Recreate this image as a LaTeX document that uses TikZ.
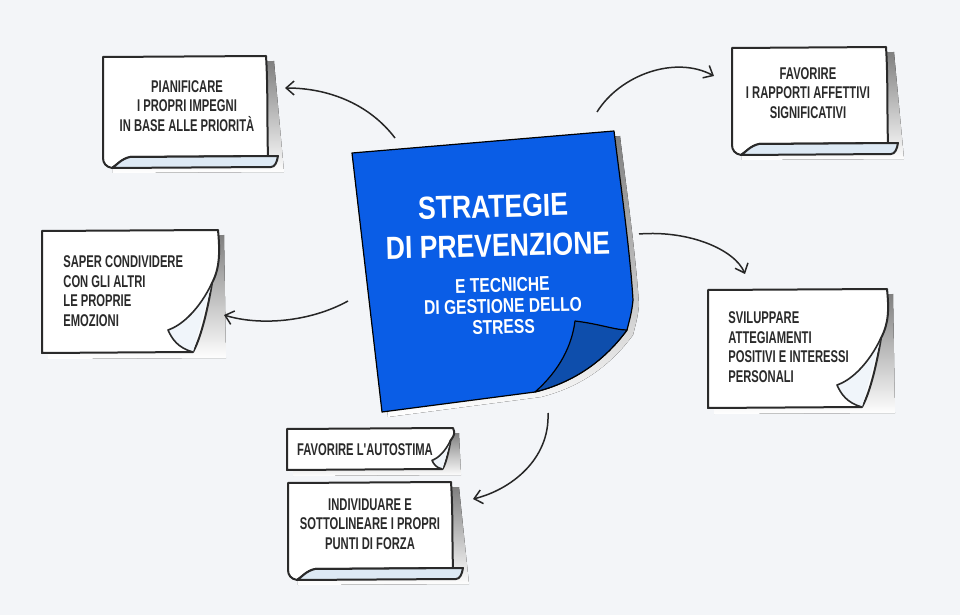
\documentclass[tikz,border=0pt]{standalone}
\usepackage{fontspec}
\newfontfamily\notefont{Liberation Sans}[FakeStretch=0.66]
\newfontfamily\headfont{Liberation Sans}[FakeStretch=0.78]
\newfontfamily\bigfont{Liberation Sans}[FakeStretch=0.83]
\usetikzlibrary{arrows.meta}

\definecolor{bg}{HTML}{F3F5F8}
\definecolor{noteblue}{HTML}{0A5DE6}
\definecolor{curlblue}{HTML}{0E4EAC}
\definecolor{shade}{HTML}{DCE7F2}
\definecolor{scrollc}{HTML}{DDE9F4}
\definecolor{ink}{HTML}{2A2A2A}

\newcommand{\scrollnote}[4]{%
	\fill[shade] ({#1+5},{#2+6}) -- ({#3+7},{#2+5}) -- ({#3+17},{#4+4}) -- ({#1+10},{#4+5}) -- cycle;
	\draw[notebody] ({#1},{#2+1}) -- ({#3-1},{#2}) .. controls ({#3+1},{#2+30}) and ({#3},{#4-40}) .. ({#3+1},{#4-12}) -- ({#1+27},{#4-11}) .. controls ({#1+18},{#4-9}) and ({#1+14},{#4-3}) .. ({#1+9},{#4}) .. controls ({#1+3},{#4-1}) and ({#1},{#4-5}) .. ({#1},{#4-10}) -- cycle;
	\draw[notescroll] ({#1+27},{#4-11}) -- ({#3+11},{#4-12}) .. controls ({#3+10},{#4-6}) and ({#3+8},{#4-1}) .. ({#3+4},{#4-1}) -- ({#1+9},{#4}) .. controls ({#1+14},{#4-3}) and ({#1+18},{#4-9}) .. ({#1+27},{#4-11}) -- cycle;
}
\newcommand{\curlnote}[5]{%
	\fill[shade] ({#1+6},{#2+6}) -- ({#3+6},{#2+5}) -- ({#3+8},{#4+5}) -- ({#1+6},{#4+6}) -- cycle;
	\draw[notebody] ({#1},{#2+1}) -- ({#3},{#2}) .. controls ({#3+2},{#2+0.4*(#4-#2-70*#5)}) and ({#3+2},{#4-85*#5}) .. ({#3-6*#5},{#4-70*#5}) .. controls ({#3-10*#5},{#4-45*#5}) and ({#3-17*#5},{#4-15*#5}) .. ({#3-25*#5},{#4-1}) -- ({#1},{#4}) -- cycle;
	\draw[notecurl] ({#3-6*#5},{#4-70*#5}) .. controls ({#3-18*#5},{#4-45*#5}) and ({#3-35*#5},{#4-28*#5}) .. ({#3-50*#5},{#4-23*#5}) .. controls ({#3-46*#5},{#4-14*#5}) and ({#3-40*#5},{#4-5*#5}) .. ({#3-25*#5},{#4-1});
}

\begin{document}
\begin{tikzpicture}[x=0.5pt,y=-0.5pt,
	notebody/.style={fill=white,draw=ink,line width=1pt,line join=round},
	notescroll/.style={fill=scrollc,draw=ink,line width=1pt,line join=round},
	notecurl/.style={fill=scrollc!45!white,draw=ink,line width=0.8pt,line join=round},
	notetext/.style={text=ink,inner sep=0pt,font=\notefont\bfseries\fontsize{8.5}{9.8}\selectfont},
	bluetext/.style={text=white,inner sep=0pt,rotate=1.5,align=center},
	titletext/.style={bluetext,text height=11.5pt,text depth=0pt,font=\bigfont\bfseries\fontsize{16}{17}\selectfont},
	link/.style={draw=black!85,line width=0.75pt,-{Straight Barb[length=4pt,width=7pt]}}]
	\fill[bg] (0,0) rectangle (960,615);
	\useasboundingbox (0,0) rectangle (960,615);
	\scrollnote{103}{56}{267}{168}
	\scrollnote{732}{47}{887}{155}
	\scrollnote{288}{482}{452}{580}
	\curlnote{42}{230}{218}{353}{1}
	\curlnote{708}{289}{887}{408}{1}
	\curlnote{287}{428}{453}{470}{0.42}
	\fill[shade] (358,158) -- (620,136) .. controls (626,185) and (636,255) .. (639,305) .. controls (638,317) and (635,327) .. (633,335) .. controls (611,365) and (581,387) .. (541,397) -- (388,417) -- cycle;
	\draw[fill=noteblue,draw=black,line width=0.6pt,line join=round] (352,153) -- (614,131) .. controls (620,180) and (630,250) .. (633,300) .. controls (632,312) and (629,322) .. (627,330) .. controls (605,360) and (575,382) .. (535,392) -- (382,412) -- cycle;
	\draw[fill=curlblue,draw=black,line width=0.6pt,line join=round] (575,321) .. controls (600,324) and (615,330) .. (627,330) .. controls (605,360) and (575,382) .. (535,392) .. controls (560,370) and (572,345) .. (575,321) -- cycle;
	\node[titletext] (title) at (493,206) {STRATEGIE};
	\node[titletext] (titlebis) at (498,245) {DI PREVENZIONE};
	\node[bluetext,font=\headfont\bfseries\fontsize{10}{10.5}\selectfont] (subtitle) at (503,306) {E TECNICHE\\DI GESTIONE DELLO\\STRESS};
	\node[notetext,align=center] (plan) at (187,106) {PIANIFICARE\\I PROPRI IMPEGNI\\IN BASE ALLE PRIORITÀ};
	\node[notetext,align=center] (bond) at (808,93) {FAVORIRE\\I RAPPORTI AFFETTIVI\\SIGNIFICATIVI};
	\node[notetext,align=left,anchor=west] (share) at (63,291) {SAPER CONDIVIDERE\\CON GLI ALTRI\\LE PROPRIE\\EMOZIONI};
	\node[notetext,align=left,anchor=west] (grow) at (728,347) {SVILUPPARE\\ATTEGIAMENTI\\POSITIVI E INTERESSI\\PERSONALI};
	\node[notetext] (self) at (365,450) {FAVORIRE L'AUTOSTIMA};
	\node[notetext,align=center] (force) at (370,524) {INDIVIDUARE E\\SOTTOLINEARE I PROPRI\\PUNTI DI FORZA};
	\coordinate (fromplan) at (395,138);
	\coordinate (tobond) at (597,112);
	\coordinate (togrow) at (639,234);
	\coordinate (toshare) at (348,301);
	\coordinate (toforce) at (548,413);
	\coordinate (atplan) at (285,88);
	\coordinate (atbond) at (714,76);
	\coordinate (atgrow) at (745,274);
	\coordinate (atshare) at (224,315);
	\coordinate (atforce) at (473,499);
	\draw[link] (fromplan) .. controls (370,105) and (330,88) .. (atplan);
	\draw[link] (tobond) .. controls (620,75) and (675,55) .. (atbond);
	\draw[link] (togrow) .. controls (690,230) and (735,250) .. (atgrow);
	\draw[link] (toshare) .. controls (310,322) and (260,326) .. (atshare);
	\draw[link] (toforce) .. controls (550,460) and (510,490) .. (atforce);
\end{tikzpicture}
\end{document}
